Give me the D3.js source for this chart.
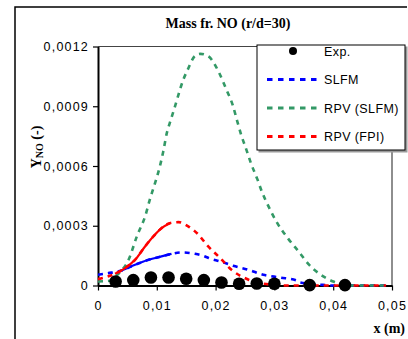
<!DOCTYPE html>
<html>
<head>
<meta charset="utf-8">
<script src="https://cdn.jsdelivr.net/npm/d3@7"></script>
<style>
  body { margin: 0; background: #fff; }
  svg { display: block; }
</style>
</head>
<body>
<div id="chart"></div>
<script>
// data
var expX = [0.003, 0.006, 0.009, 0.012, 0.015, 0.018, 0.021, 0.024, 0.027, 0.030, 0.036, 0.042];
var expY = [0.00002, 0.000027, 0.00004, 0.00004, 0.000034, 0.000027, 0.000015, 0.000009, 0.00001, 0.000009, 0.000002, 0.000002];

var slfmX = [0, 0.00175, 0.004, 0.0063, 0.0086, 0.0108, 0.0125, 0.0142, 0.0165, 0.0179, 0.0188, 0.0209, 0.023, 0.0256, 0.0281, 0.031, 0.0338, 0.0344, 0.0378, 0.040, 0.045, 0.049];
var slfmY = [0.000054, 0.000062, 0.000075, 0.000104, 0.000129, 0.000146, 0.000159, 0.000166, 0.000159, 0.000149, 0.000138, 0.00012, 0.000099, 0.000079, 0.000054, 0.00004, 0.000025, 0.000015, 0.000004, 0, 0, 0];

var rpvSlfmX = [0, 0.002, 0.0035, 0.0052, 0.0066, 0.0081, 0.0088, 0.0097, 0.0104, 0.0111, 0.0117, 0.0122, 0.013, 0.0136, 0.0145, 0.0152, 0.0165, 0.0174, 0.0188, 0.0205, 0.0218, 0.0229, 0.0237, 0.0244, 0.0252, 0.026, 0.0271, 0.0279, 0.029, 0.0305, 0.0324, 0.0342, 0.0358, 0.0375, 0.040, 0.043, 0.049];
var rpvSlfmY = [0.00002, 0.000024, 0.00006, 0.000129, 0.000246, 0.000355, 0.00043, 0.000514, 0.000584, 0.000673, 0.000765, 0.000815, 0.00089, 0.00095, 0.001033, 0.00108, 0.001153, 0.001163, 0.00115, 0.001074, 0.000986, 0.000907, 0.000823, 0.000752, 0.000685, 0.000615, 0.000534, 0.000469, 0.000397, 0.000313, 0.000233, 0.000168, 0.000107, 0.000062, 0.00002, 0, 0];

var rpvFpiX = [0, 0.0029, 0.0046, 0.0063, 0.008, 0.0094, 0.0108, 0.0122, 0.0137, 0.0154, 0.0171, 0.0185, 0.0208, 0.0227, 0.0256, 0.0295, 0.032, 0.040, 0.049];
var rpvFpiY = [0.000032, 0.000059, 0.000087, 0.000129, 0.000196, 0.000246, 0.000288, 0.000313, 0.000318, 0.000296, 0.000255, 0.000204, 0.000137, 0.000079, 0.000029, 0.000004, 0, 0, 0];

var xTicks = [0, 0.01, 0.02, 0.03, 0.04, 0.05];
var yTicks = [0, 0.0003, 0.0006, 0.0009, 0.0012];

var series = [
  { name: "SLFM", xs: slfmX, ys: slfmY, color: "#0000ff", solid: [0.0025, 0.0128] },
  { name: "RPV (SLFM)", xs: rpvSlfmX, ys: rpvSlfmY, color: "#339966", solid: null },
  { name: "RPV (FPI)", xs: rpvFpiX, ys: rpvFpiY, color: "#ff0000", solid: [0.0029, 0.013] }
];

var W = 408, H = 339;
var plot = { left: 98, right: 392, top: 46.5, bottom: 285.5 };

var svg = d3.select("#chart").append("svg")
    .attr("width", W)
    .attr("height", H);

// outer chart frame
svg.append("path")
    .attr("d", "M15,345 L15,7 L407,7")
    .attr("fill", "none")
    .attr("stroke", "#000")
    .attr("stroke-width", 1.5);

var x = d3.scaleLinear().domain([0, 0.05]).range([plot.left, plot.right]);
var y = d3.scaleLinear().domain([0, 0.0012]).range([plot.bottom, plot.top]);

// plot frame (top and right)
svg.append("path")
    .attr("d", "M" + plot.left + "," + plot.top + " L" + plot.right + "," + plot.top + " L" + plot.right + "," + plot.bottom)
    .attr("fill", "none")
    .attr("stroke", "#444")
    .attr("stroke-width", 1.2);

// axes
var xAxis = svg.append("g")
    .attr("transform", "translate(0," + plot.bottom + ")")
    .call(d3.axisBottom(x).tickValues(xTicks).tickSizeInner(5).tickSizeOuter(0).tickPadding(11)
        .tickFormat(function (d) { return d === 0 ? "0" : d3.format(".2f")(d).replace(".", ","); }));
var yAxis = svg.append("g")
    .attr("transform", "translate(" + plot.left + ",0)")
    .call(d3.axisLeft(y).tickValues(yTicks).tickSizeInner(5).tickSizeOuter(0).tickPadding(4)
        .tickFormat(function (d) { return d === 0 ? "0" : d3.format(".4f")(d).replace(".", ","); }));

[xAxis, yAxis].forEach(function (g) {
  g.select(".domain").attr("stroke", "#000").attr("stroke-width", 2);
  g.selectAll(".tick line").attr("stroke", "#000").attr("stroke-width", 1.2);
  g.selectAll("text")
      .attr("font-family", "Liberation Sans, Arial, sans-serif")
      .attr("font-size", 12.5)
      .attr("letter-spacing", "1.2px")
      .attr("fill", "#000");
});

// curves
var lineGen = d3.line()
    .x(function (d) { return x(d[0]); })
    .y(function (d) { return y(d[1]); })
    .curve(d3.curveMonotoneX);

var curves = svg.append("g");
series.forEach(function (s) {
  var pts = s.xs.map(function (v, i) { return [v, s.ys[i]]; });
  curves.append("path")
      .attr("d", lineGen(pts))
      .attr("fill", "none")
      .attr("stroke", s.color)
      .attr("stroke-width", 2.6)
      .attr("stroke-dasharray", "5,5");
  if (s.solid) {
    var part = pts.filter(function (p) { return p[0] >= s.solid[0] && p[0] <= s.solid[1]; });
    curves.append("path")
        .attr("d", lineGen(part))
        .attr("fill", "none")
        .attr("stroke", s.color)
        .attr("stroke-width", 2.2);
  }
});

// experimental points
svg.append("g").selectAll("circle")
    .data(expX.map(function (v, i) { return [v, expY[i]]; }))
    .enter().append("circle")
    .attr("cx", function (d) { return x(d[0]); })
    .attr("cy", function (d) { return y(d[1]); })
    .attr("r", 6.3)
    .attr("fill", "#000");

// titles
svg.append("text")
    .attr("x", 228).attr("y", 28)
    .attr("text-anchor", "middle")
    .attr("font-family", "Liberation Serif, Times New Roman, serif")
    .attr("font-weight", "bold")
    .attr("font-size", 14)
    .text("Mass fr. NO (r/d=30)");

var yl = svg.append("text")
    .attr("transform", "translate(41,147) rotate(-90)")
    .attr("text-anchor", "middle")
    .attr("font-family", "Liberation Serif, Times New Roman, serif")
    .attr("font-weight", "bold")
    .attr("font-size", 14);
yl.append("tspan").text("Y");
yl.append("tspan").attr("font-size", 10).attr("dy", 2).text("NO");
yl.append("tspan").attr("dy", -2).text(" (-)");

svg.append("text")
    .attr("x", 405).attr("y", 333)
    .attr("text-anchor", "end")
    .attr("font-family", "Liberation Serif, Times New Roman, serif")
    .attr("font-weight", "bold")
    .attr("font-size", 14)
    .text("x (m)");

// legend
var lg = svg.append("g").attr("transform", "translate(257,45)");
lg.append("rect")
    .attr("x", 1.5).attr("y", 1.5).attr("width", 149).attr("height", 106)
    .attr("fill", "#999");
lg.append("rect")
    .attr("width", 148).attr("height", 105)
    .attr("fill", "#fff")
    .attr("stroke", "#000")
    .attr("stroke-width", 1);

var legendItems = [{ name: "Exp.", color: "#000", dot: true }].concat(series);
legendItems.forEach(function (s, i) {
  var ly = 6 + i * 28.5;
  if (s.dot) {
    lg.append("circle").attr("cx", 36).attr("cy", ly).attr("r", 4).attr("fill", "#000");
  } else {
    lg.append("line")
        .attr("x1", 10).attr("x2", 63).attr("y1", ly).attr("y2", ly)
        .attr("stroke", s.color)
        .attr("stroke-width", 3)
        .attr("stroke-dasharray", "5.5,5.5");
  }
  lg.append("text")
      .attr("x", 67).attr("y", ly + 4.5)
      .attr("font-family", "Liberation Sans, Arial, sans-serif")
      .attr("font-size", 12.5)
      .attr("letter-spacing", "0.4px")
      .text(s.name);
});
</script>
</body>
</html>
